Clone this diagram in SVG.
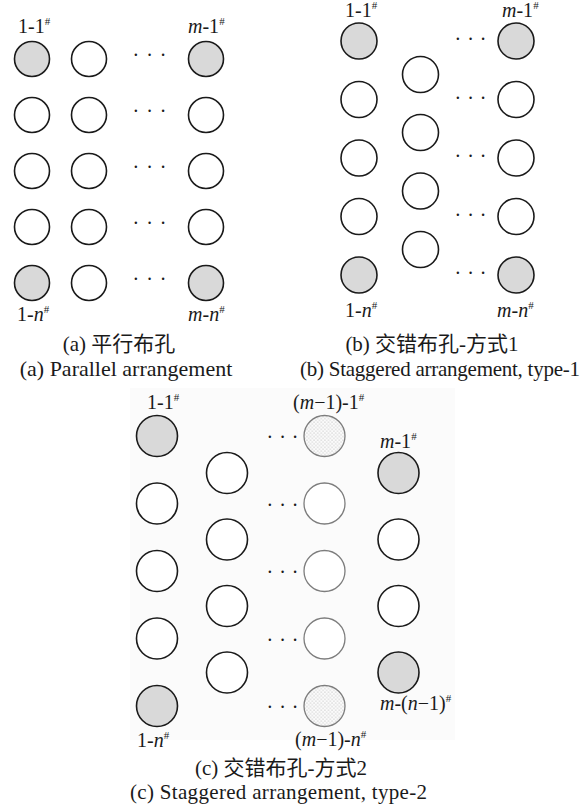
<svg xmlns="http://www.w3.org/2000/svg" width="585" height="805" viewBox="0 0 585 805">
<defs>
<pattern id="dots" width="3.6" height="3.6" patternUnits="userSpaceOnUse">
<rect width="3.6" height="3.6" fill="#fbfbfb"/>
<circle cx="0.9" cy="0.9" r="0.45" fill="#8a8a8a"/>
<circle cx="2.7" cy="2.7" r="0.45" fill="#9a9a9a"/>
</pattern>
</defs>
<style>
.w{fill:#fff;stroke:#1a1a1a;stroke-width:1.6}
.g{fill:#d9d9d9;stroke:#1a1a1a;stroke-width:1.6}
.lw{fill:#fff;stroke:#7d7d7d;stroke-width:1.3}
.ld{fill:url(#dots);stroke:#7d7d7d;stroke-width:1.3}
.t{font-family:"Liberation Serif","Times New Roman",serif;font-size:20px;fill:#1a1a1a}
.sup{font-size:11px}
.i{font-style:italic}
.cap{font-family:"Liberation Serif","Times New Roman","Noto Sans CJK SC",serif;font-size:21px;fill:#1a1a1a;text-anchor:middle}
.dd{font-family:"Liberation Serif","Times New Roman",serif;font-size:20px;fill:#1a1a1a;letter-spacing:1px}
</style>
<rect width="585" height="805" fill="#fff"/>
<rect x="130" y="388" width="325" height="352" fill="#fbfbfb"/>

<!-- Panel (a) -->
<g id="panel-a">
<g id="a-1-1"><circle class="g" cx="32" cy="59" r="17.5"/><text class="t" x="18" y="33">1-1<tspan class="sup" dy="-8">#</tspan></text></g>
<g id="a-2-1"><circle class="w" cx="89" cy="59" r="17.5"/></g>
<g id="a-m-1"><circle class="g" cx="206" cy="59" r="17.5"/><text class="t" x="188" y="33"><tspan class="i">m</tspan>-1<tspan class="sup" dy="-8">#</tspan></text></g>
<g id="a-1-2"><circle class="w" cx="32" cy="115" r="17.5"/></g>
<g id="a-2-2"><circle class="w" cx="89" cy="115" r="17.5"/></g>
<g id="a-m-2"><circle class="w" cx="206" cy="115" r="17.5"/></g>
<g id="a-1-3"><circle class="w" cx="32" cy="171" r="17.5"/></g>
<g id="a-2-3"><circle class="w" cx="89" cy="171" r="17.5"/></g>
<g id="a-m-3"><circle class="w" cx="206" cy="171" r="17.5"/></g>
<g id="a-1-4"><circle class="w" cx="32" cy="227" r="17.5"/></g>
<g id="a-2-4"><circle class="w" cx="89" cy="227" r="17.5"/></g>
<g id="a-m-4"><circle class="w" cx="206" cy="227" r="17.5"/></g>
<g id="a-1-n"><circle class="g" cx="32" cy="283" r="17.5"/><text class="t" x="17" y="321">1-<tspan class="i">n</tspan><tspan class="sup" dy="-8">#</tspan></text></g>
<g id="a-2-n"><circle class="w" cx="89" cy="283" r="17.5"/></g>
<g id="a-m-n"><circle class="g" cx="206" cy="283" r="17.5"/><text class="t" x="188" y="321"><tspan class="i">m</tspan>-<tspan class="i">n</tspan><tspan class="sup" dy="-8">#</tspan></text></g>
<g id="a-dots">
<text class="dd" x="132.5" y="62">· · ·</text>
<text class="dd" x="132.5" y="118">· · ·</text>
<text class="dd" x="132.5" y="174">· · ·</text>
<text class="dd" x="132.5" y="230">· · ·</text>
<text class="dd" x="132.5" y="286">· · ·</text>
</g>
<text class="cap" x="119" y="351">(a) 平行布孔</text>
<text class="cap" x="126" y="376" style="font-size:22px">(a) Parallel arrangement</text>
</g>

<!-- Panel (b) -->
<g id="panel-b">
<g id="b-1-1"><circle class="g" cx="359" cy="41" r="18"/><text class="t" x="345" y="17">1-1<tspan class="sup" dy="-8">#</tspan></text></g>
<g id="b-1-2"><circle class="w" cx="359" cy="99.5" r="18"/></g>
<g id="b-1-3"><circle class="w" cx="359" cy="158" r="18"/></g>
<g id="b-1-4"><circle class="w" cx="359" cy="216.5" r="18"/></g>
<g id="b-1-n"><circle class="g" cx="359" cy="275" r="18"/><text class="t" x="345" y="317">1-<tspan class="i">n</tspan><tspan class="sup" dy="-8">#</tspan></text></g>
<g id="b-2-1"><circle class="w" cx="420.5" cy="74.5" r="18"/></g>
<g id="b-2-2"><circle class="w" cx="420.5" cy="132.5" r="18"/></g>
<g id="b-2-3"><circle class="w" cx="420.5" cy="191" r="18"/></g>
<g id="b-2-4"><circle class="w" cx="420.5" cy="249.5" r="18"/></g>
<g id="b-m-1"><circle class="g" cx="516" cy="41" r="18"/><text class="t" x="502" y="17"><tspan class="i">m</tspan>-1<tspan class="sup" dy="-8">#</tspan></text></g>
<g id="b-m-2"><circle class="w" cx="516" cy="99.5" r="18"/></g>
<g id="b-m-3"><circle class="w" cx="516" cy="158" r="18"/></g>
<g id="b-m-4"><circle class="w" cx="516" cy="216.5" r="18"/></g>
<g id="b-m-n"><circle class="g" cx="516" cy="275" r="18"/><text class="t" x="497" y="317"><tspan class="i">m</tspan>-<tspan class="i">n</tspan><tspan class="sup" dy="-8">#</tspan></text></g>
<g id="b-dots">
<text class="dd" x="454.5" y="46" style="letter-spacing:0.5px">· · ·</text>
<text class="dd" x="454.5" y="104.5" style="letter-spacing:0.5px">· · ·</text>
<text class="dd" x="454.5" y="163" style="letter-spacing:0.5px">· · ·</text>
<text class="dd" x="454.5" y="221.5" style="letter-spacing:0.5px">· · ·</text>
<text class="dd" x="454.5" y="280" style="letter-spacing:0.5px">· · ·</text>
</g>
<text class="cap" x="432" y="351">(b) 交错布孔-方式1</text>
<text class="cap" x="440" y="376" textLength="280" lengthAdjust="spacing">(b) Staggered arrangement, type-1</text>
</g>

<!-- Panel (c) -->
<g id="panel-c">
<g id="c-1-1"><circle class="g" cx="157" cy="436" r="20.5"/><text class="t" x="147" y="409">1-1<tspan class="sup" dy="-8">#</tspan></text></g>
<g id="c-1-2"><circle class="w" cx="157" cy="503.5" r="20.5"/></g>
<g id="c-1-3"><circle class="w" cx="157" cy="571" r="20.5"/></g>
<g id="c-1-4"><circle class="w" cx="157" cy="638.5" r="20.5"/></g>
<g id="c-1-n"><circle class="g" cx="157" cy="706" r="20.5"/><text class="t" x="137" y="747">1-<tspan class="i">n</tspan><tspan class="sup" dy="-8">#</tspan></text></g>
<g id="c-2-1"><circle class="w" cx="227" cy="473" r="20.5"/></g>
<g id="c-2-2"><circle class="w" cx="227" cy="539.5" r="20.5"/></g>
<g id="c-2-3"><circle class="w" cx="227" cy="606" r="20.5"/></g>
<g id="c-2-4"><circle class="w" cx="227" cy="672.5" r="20.5"/></g>
<g id="c-m1-1"><circle class="ld" cx="324.5" cy="436" r="20.5"/><text class="t" x="293" y="409">(<tspan class="i">m</tspan>−1)-1<tspan class="sup" dy="-8">#</tspan></text></g>
<g id="c-m1-2"><circle class="lw" cx="324.5" cy="503.5" r="20.5"/></g>
<g id="c-m1-3"><circle class="lw" cx="324.5" cy="571" r="20.5"/></g>
<g id="c-m1-4"><circle class="lw" cx="324.5" cy="638.5" r="20.5"/></g>
<g id="c-m1-n"><circle class="ld" cx="324.5" cy="706" r="20.5"/><text class="t" x="295" y="746">(<tspan class="i">m</tspan>−1)-<tspan class="i">n</tspan><tspan class="sup" dy="-8">#</tspan></text></g>
<g id="c-m-1"><circle class="g" cx="398.5" cy="473" r="20.5"/><text class="t" x="380" y="448"><tspan class="i">m</tspan>-1<tspan class="sup" dy="-8">#</tspan></text></g>
<g id="c-m-2"><circle class="w" cx="398.5" cy="539.5" r="20.5"/></g>
<g id="c-m-3"><circle class="w" cx="398.5" cy="606" r="20.5"/></g>
<g id="c-m-n1"><circle class="g" cx="398.5" cy="672.5" r="20.5"/><text class="t" x="380" y="710"><tspan class="i">m</tspan>-(<tspan class="i">n</tspan>−1)<tspan class="sup" dy="-8">#</tspan></text></g>
<g id="c-dots">
<text class="dd" x="266.5" y="444" style="letter-spacing:0.5px">· · ·</text>
<text class="dd" x="266.5" y="511.5" style="letter-spacing:0.5px">· · ·</text>
<text class="dd" x="266.5" y="579" style="letter-spacing:0.5px">· · ·</text>
<text class="dd" x="266.5" y="646.5" style="letter-spacing:0.5px">· · ·</text>
<text class="dd" x="266.5" y="714" style="letter-spacing:0.5px">· · ·</text>
</g>
<text class="cap" x="281" y="775">(c) 交错布孔-方式2</text>
<text class="cap" x="278.5" y="799" textLength="297" lengthAdjust="spacing">(c) Staggered arrangement, type-2</text>
</g>
<g id="connectors"/>
</svg>
